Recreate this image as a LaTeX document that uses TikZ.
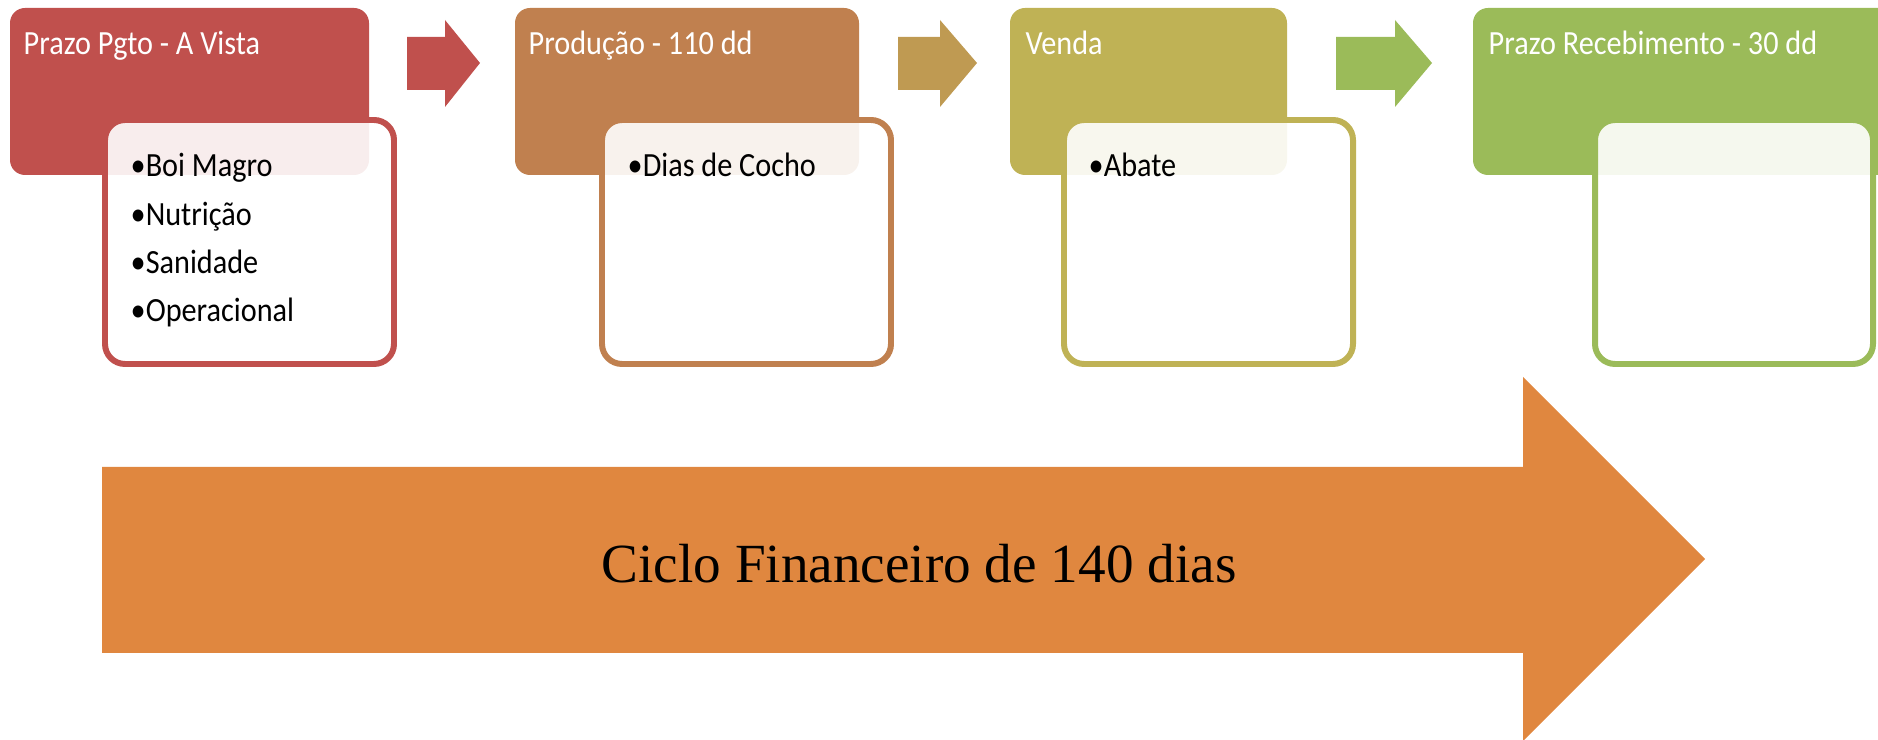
\documentclass[tikz,border=0pt]{standalone}
\usepackage{fontspec}
\setmainfont{Carlito}
\newfontfamily\fonteciclo{Liberation Serif}
\usetikzlibrary{calc}
\definecolor{cvermelho}{HTML}{C0504D}
\definecolor{cmarrom}{HTML}{C0804F}
\definecolor{coliva}{HTML}{BFB255}
\definecolor{cverde}{HTML}{9BBB59}
\definecolor{cseta}{HTML}{BF9A52}
\definecolor{claranja}{HTML}{E0873F}
\def\alto#1{\scalebox{1}[1.12]{#1}}
\tikzset{
  caixatopo/.style={rounded corners=0.15cm},
  caixaitem/.style={rounded corners=0.2cm, line width=1.7pt, fill=white, fill opacity=0.9},
  titulo/.style={anchor=base west, inner sep=0, text=white, font=\fontsize{8.6}{13.7}\selectfont},
  item/.style={anchor=base west, inner sep=0, text=black, font=\fontsize{8.6}{13.7}\selectfont}
}

\begin{document}
\begin{tikzpicture}[x=0.01cm, y=-0.01cm]
			%%%%% START %%%%%
			\useasboundingbox (0, 0) rectangle (1878, 740);
			\clip (0, 0) rectangle (1878, 740);
			
			% etapas de cima
			\fill[caixatopo, cvermelho] (10, 8) rectangle (369, 175);
			\fill[caixatopo, cmarrom] (515, 8) rectangle (859, 175);
			\fill[caixatopo, coliva] (1010, 8) rectangle (1287, 175);
			\fill[caixatopo, cverde] (1473, 8) rectangle (1920, 175);
			
			\node[titulo] (tit1) at (23, 55) {\alto{Prazo Pgto - A Vista}};
			\node[titulo] (tit2) at (528, 55) {\alto{Produção - 110 dd}};
			\node[titulo] (tit3) at (1025, 55) {\alto{Venda}};
			\node[titulo] (tit4) at (1488, 55) {\alto{Prazo Recebimento - 30 dd}};
			
			% setas pequenas
			\fill[cvermelho] (407, 37) -- (445, 37) -- (445, 20) -- (480, 63) -- (445, 107) -- (445, 90) -- (407, 90) -- cycle;
			\fill[cseta] (898, 37) -- (940, 37) -- (940, 20) -- (977, 63) -- (940, 107) -- (940, 90) -- (898, 90) -- cycle;
			\fill[cverde] (1336, 37) -- (1395, 37) -- (1395, 20) -- (1432, 63) -- (1395, 107) -- (1395, 90) -- (1336, 90) -- cycle;
			
			% caixas de itens
			\draw[caixaitem, draw=cvermelho] (105, 120) rectangle (394, 364);
			\draw[caixaitem, draw=cmarrom] (602, 120) rectangle (891, 364);
			\draw[caixaitem, draw=coliva] (1064, 120) rectangle (1353, 364);
			\draw[caixaitem, draw=cverde] (1595, 120) rectangle (1873, 364);
			
			\node[item] (boi) at (130, 177) {\alto{•Boi Magro}};
			\node[item] (nutri) at (130, 225.3) {\alto{•Nutrição}};
			\node[item] (sani) at (130, 273.6) {\alto{•Sanidade}};
			\node[item] (oper) at (130, 321.9) {\alto{•Operacional}};
			\node[item] (cocho) at (627, 177) {\alto{•Dias de Cocho}};
			\node[item] (abate) at (1088, 177) {\alto{•Abate}};
			
			% seta do ciclo
			\fill[claranja] (102, 467) -- (1523, 467) -- (1523, 377) -- (1705, 559) -- (1523, 741) -- (1523, 653) -- (102, 653) -- cycle;
			\node[anchor=base, inner sep=0, font=\fonteciclo\fontsize{15.7}{18}\selectfont] (ciclo) at (919, 583) {Ciclo Financeiro de 140 dias};
			
			%%%%% END %%%%%
\end{tikzpicture}
\end{document}
